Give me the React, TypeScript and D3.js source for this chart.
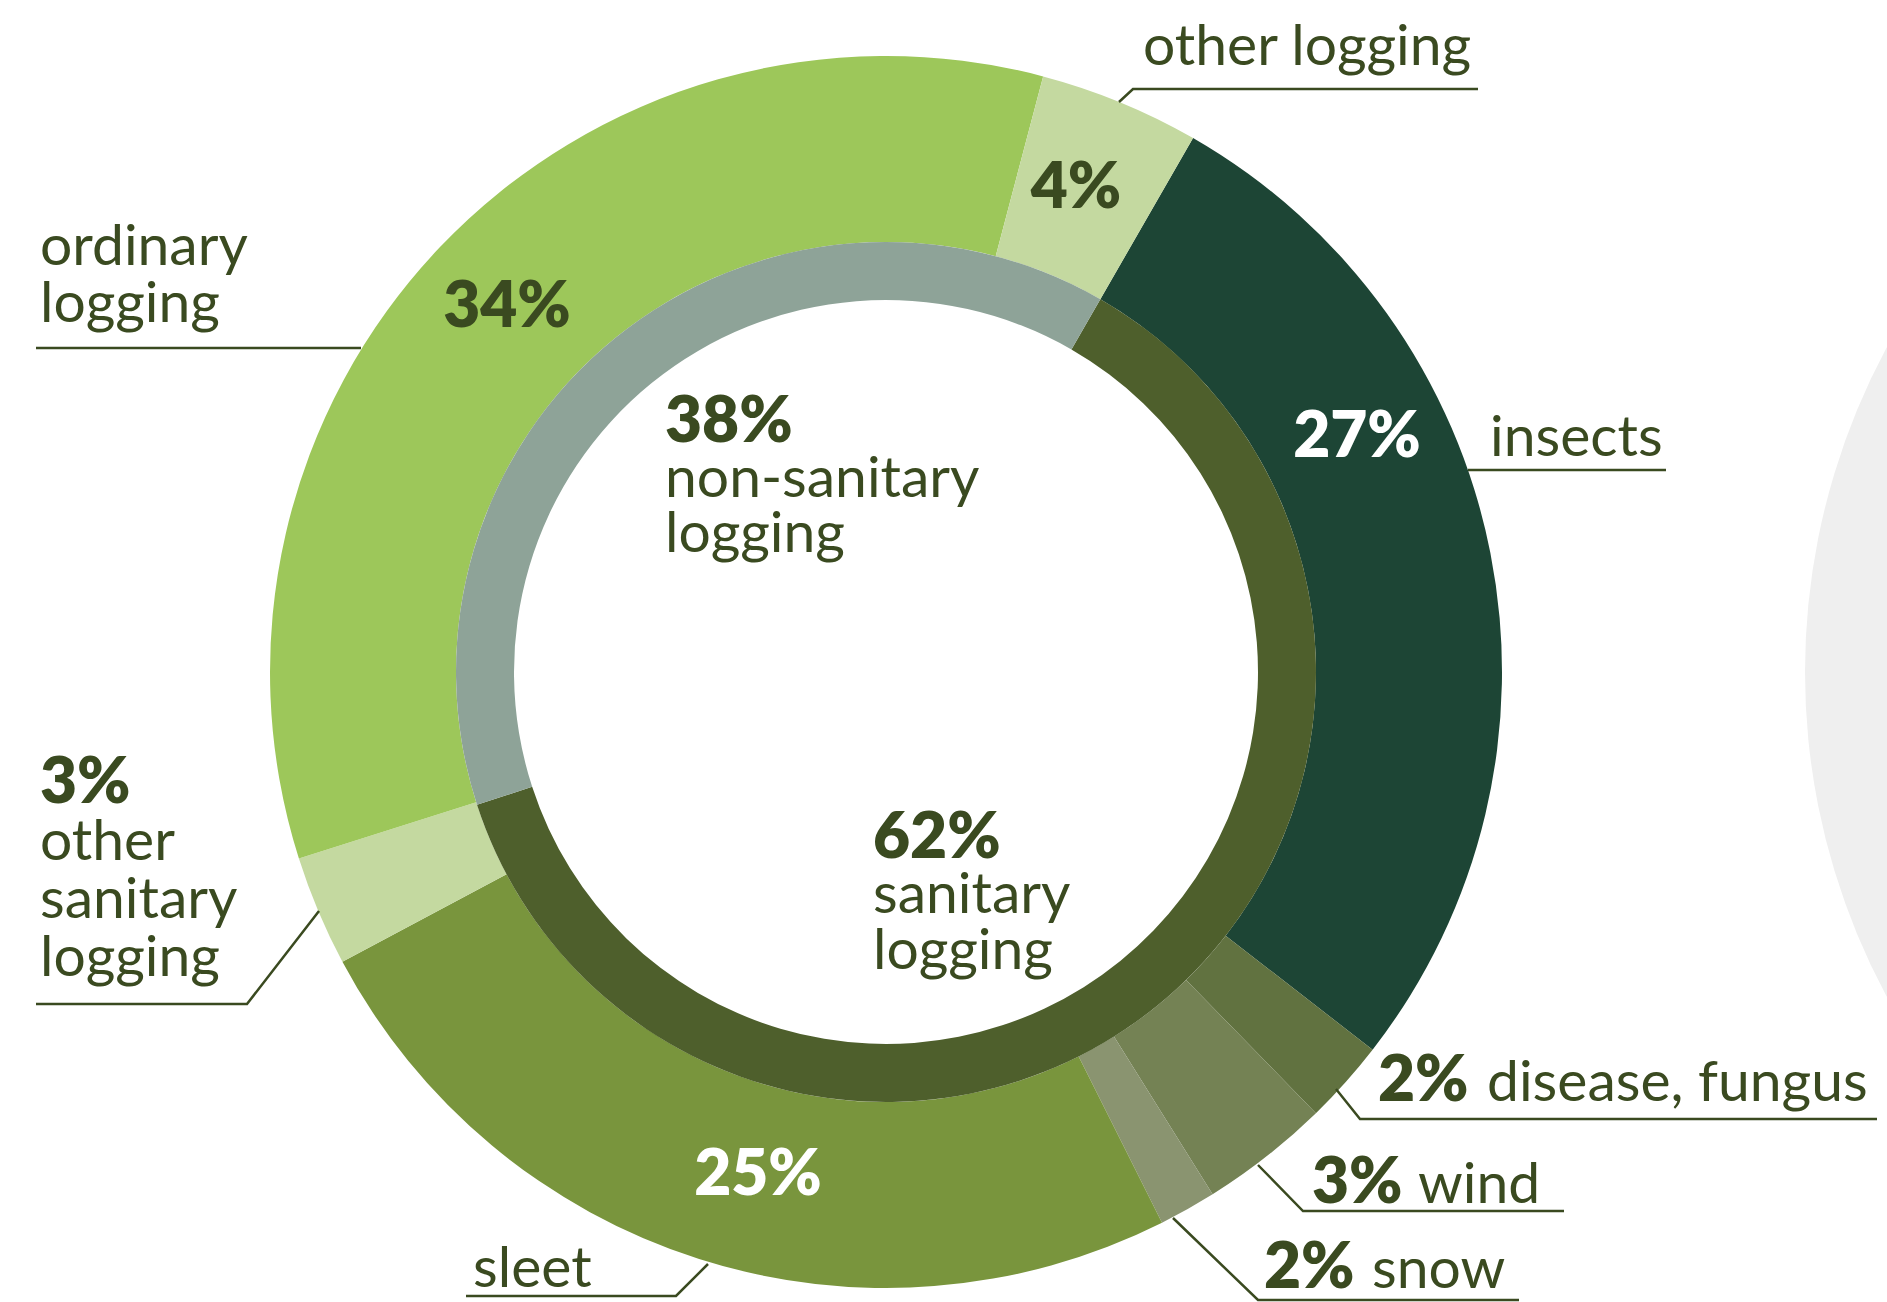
import React from "react";
import * as d3 from "d3";

// ---- data ----
const outerLabels = ["insects", "disease, fungus", "wind", "snow", "sleet", "other sanitary logging", "ordinary logging", "other logging"];
// arc sizes (share of the ring, %)
const outerValues = [27.2, 2.2, 3.4, 1.5, 24.6, 2.9, 34.0, 4.2];
// percentages as printed on the chart
const outerPercents = ["27%", "2%", "3%", "2%", "25%", "3%", "34%", "4%"];
const outerColors = ["#1d4535", "#617240", "#748254", "#8a9470", "#79953d", "#c4d9a0", "#9dc75a", "#c4d9a0"];

const innerLabels = ["sanitary logging", "non-sanitary logging"];
const innerValues = [61.7, 38.3];
const innerPercents = ["62%", "38%"];
const innerColors = ["#4e5f2c", "#8ea398"];

// ---- layout ----
const W = 1887;
const H = 1302;
const CX = 886;
const CY = 672;
const R_OUT = 616;
const R_MID = 430;
const R_IN = 372;
const START_DEG = 29.9;

const TEXT = "#3a4a20";
const FONT = "Lato, 'Open Sans', 'Noto Sans', sans-serif";
const FS = 57;
const FSB = 64;

export default function App() {
  const start = (START_DEG * Math.PI) / 180;
  const pie = d3.pie<number>().sort(null).value((d) => d).startAngle(start).endAngle(start + 2 * Math.PI);
  const outerArcs = pie(outerValues);
  const innerArcs = pie(innerValues);
  const outerArc = d3.arc<d3.PieArcDatum<number>>().innerRadius(R_MID).outerRadius(R_OUT);
  const innerArc = d3.arc<d3.PieArcDatum<number>>().innerRadius(R_IN).outerRadius(R_MID);

  const line = d3.line();
  const leaders: [number, number][][] = [
    [[1119, 102], [1133, 89], [1478, 89]],
    [[36, 348], [361, 348]],
    [[36, 1004], [247, 1004], [319, 911]],
    [[1468, 470], [1666, 470]],
    [[1336, 1089], [1360, 1119], [1877, 1119]],
    [[1258, 1165], [1303, 1211], [1564, 1211]],
    [[1173, 1218], [1258, 1300], [1519, 1300]],
    [[708, 1264], [676, 1296], [466, 1296]],
  ];

  const reg = { fontFamily: FONT, fontSize: FS, fill: TEXT, fontWeight: 400 } as const;
  const bold = { fontFamily: FONT, fontSize: FSB, fill: TEXT, fontWeight: 800 } as const;

  return (
    <svg width={W} height={H} style={{ position: "absolute", left: 0, top: 0, background: "#fff" }}>
      <circle cx={2490} cy={CY} r={685} fill="#efefef" />
      <g transform={`translate(${CX},${CY})`}>
        {outerArcs.map((a, i) => (
          <path key={"o" + i} d={outerArc(a) || ""} fill={outerColors[i]}>
            <title>{outerLabels[i]}</title>
          </path>
        ))}
        {innerArcs.map((a, i) => (
          <path key={"i" + i} d={innerArc(a) || ""} fill={innerColors[i]}>
            <title>{innerLabels[i]}</title>
          </path>
        ))}
      </g>
      {leaders.map((pts, i) => (
        <path key={"l" + i} d={line(pts) || ""} fill="none" stroke={TEXT} strokeWidth={2.5} />
      ))}

      {/* in-ring percentages */}
      <text x={1076} y={208} textAnchor="middle" style={bold}>{outerPercents[7]}</text>
      <text x={507} y={327} textAnchor="middle" style={bold}>{outerPercents[6]}</text>
      <text x={1357} y={457} textAnchor="middle" style={{ ...bold, fill: "#fff" }}>{outerPercents[0]}</text>
      <text x={758} y={1195} textAnchor="middle" style={{ ...bold, fill: "#fff" }}>{outerPercents[4]}</text>

      {/* outer labels */}
      <text x={1143} y={65} style={reg}>other logging</text>
      <text style={reg}>
        <tspan x={40} y={265}>ordinary</tspan>
        <tspan x={40} y={322}>logging</tspan>
      </text>
      <text x={40} y={803} style={bold}>{outerPercents[5]}</text>
      <text style={reg}>
        <tspan x={40} y={860}>other</tspan>
        <tspan x={40} y={918}>sanitary</tspan>
        <tspan x={40} y={976}>logging</tspan>
      </text>
      <text x={1490} y={456} style={reg}>insects</text>
      <text x={1378} y={1101} style={bold}>{outerPercents[1]}</text>
      <text x={1487} y={1101} style={reg}>disease, fungus</text>
      <text x={1312} y={1203} style={bold}>{outerPercents[2]}</text>
      <text x={1418} y={1203} style={reg}>wind</text>
      <text x={1264} y={1288} style={bold}>{outerPercents[3]}</text>
      <text x={1372} y={1288} style={reg}>snow</text>
      <text x={473} y={1287} style={reg}>sleet</text>

      {/* centre labels */}
      <text x={665} y={442} style={bold}>{innerPercents[1]}</text>
      <text style={reg}>
        <tspan x={665} y={497}>non-sanitary</tspan>
        <tspan x={665} y={552}>logging</tspan>
      </text>
      <text x={873} y={858} style={bold}>{innerPercents[0]}</text>
      <text style={reg}>
        <tspan x={873} y={913}>sanitary</tspan>
        <tspan x={873} y={969}>logging</tspan>
      </text>
    </svg>
  );
}
